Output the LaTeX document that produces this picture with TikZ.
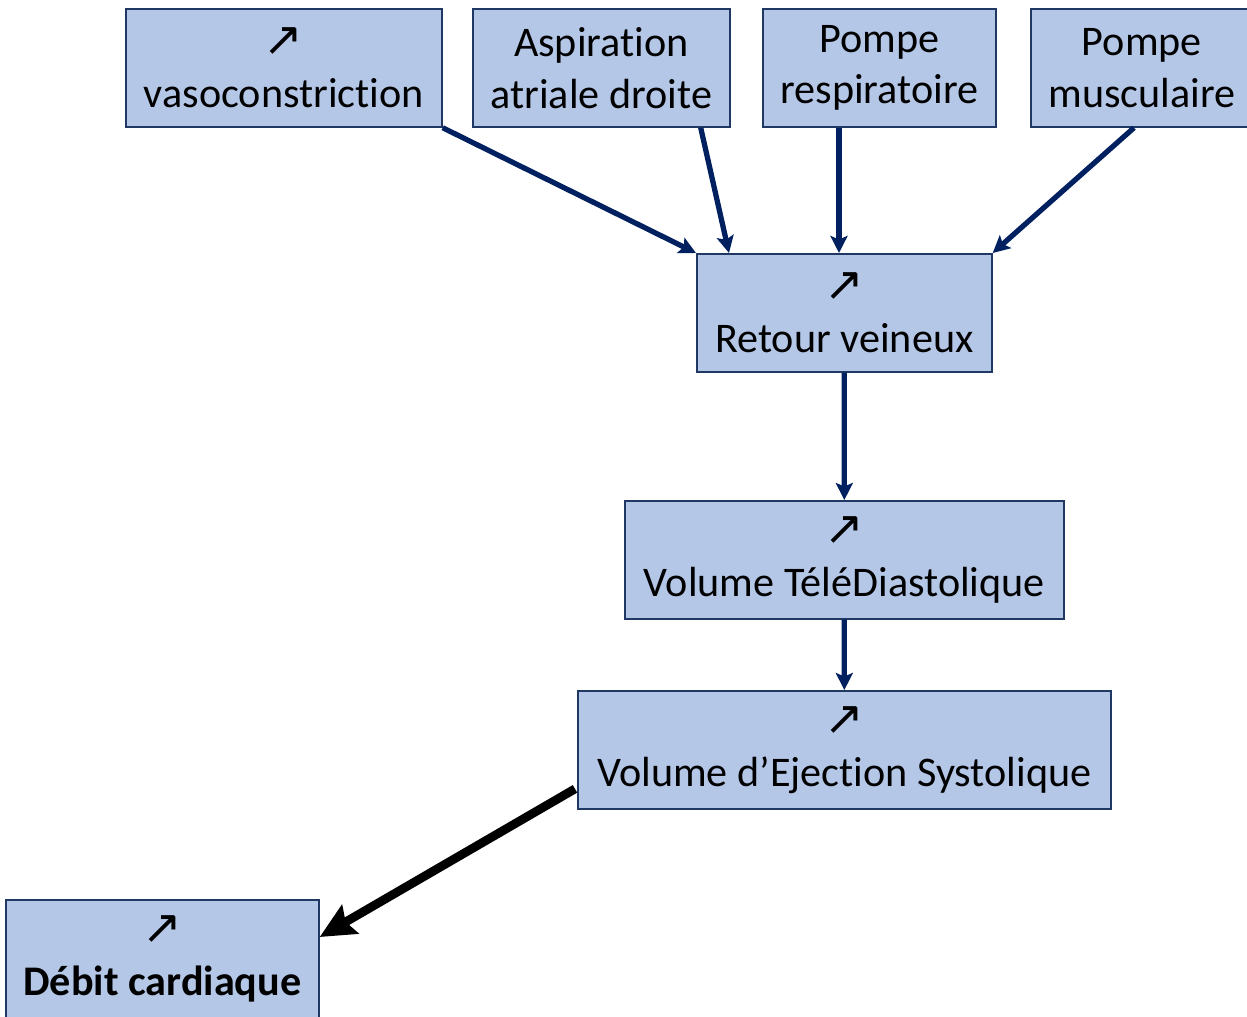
\documentclass[tikz,border=0pt]{standalone}
\usepackage{fontspec}
\setmainfont{Carlito}[Ligatures=NoCommon]
\newfontfamily\arrfont{DejaVu Sans}
\usetikzlibrary{arrows.meta,calc}
\definecolor{BoxFill}{HTML}{B4C7E7}
\definecolor{BoxLine}{HTML}{203864}
\definecolor{FlowNavy}{HTML}{002060}
\newcommand{\hausse}{{\arrfont\fontsize{27}{29}\selectfont ↗}}

\begin{document}
\begin{tikzpicture}[x=0.02cm,y=-0.02cm,
 box/.style={draw=BoxLine,fill=BoxFill,line width=1pt,anchor=north west,
 inner sep=0pt,minimum height=2.36cm,align=center,font=\fontsize{24}{29.5}\selectfont},
 flow/.style={-{Stealth[length=3.4mm,width=3.4mm,inset=0.7mm]},line width=3pt,draw=FlowNavy},
 bigflow/.style={-{Stealth[length=7mm,width=6.5mm,inset=1mm]},line width=5pt,draw=black}]
\useasboundingbox (0,0) rectangle (1247,1017);
% top row
\node[box,minimum width=6.32cm] (vaso) at (125,8) {\hausse\\vasoconstriction};
\node[box,minimum width=5.14cm] (asp) at (472,8) {Aspiration\\atriale droite};
\node[box,minimum width=4.66cm] (resp) at (762,8) {Pompe\\respiratoire};
\node[box,minimum width=4.44cm] (musc) at (1030,8) {Pompe\\musculaire};
% chain
\node[box,minimum width=5.9cm] (retour) at (696,253) {\hausse\\Retour veineux};
\node[box,minimum width=8.78cm] (vtd) at (624,500) {\hausse\\Volume TéléDiastolique};
\node[box,minimum width=10.66cm] (ves) at (577,690) {\hausse\\Volume d’Ejection Systolique};
\node[box,minimum width=6.26cm] (debit) at (5,899) {\hausse\\\textbf{Débit cardiaque}};
% arrows
\draw[flow] (vaso.south east) -- (retour.north west);
\draw[flow] ($(asp.south east)+(-30,0)$) -- ($(retour.north west)+(33,0)$);
\draw[flow] ($(resp.south west)+(77,0)$) -- ($(retour.north west)+(143,0)$);
\draw[flow] ($(musc.south west)+(104,0)$) -- (retour.north east);
\draw[flow] (retour.south) -- (vtd.north);
\draw[flow] (vtd.south) -- (ves.north);
\draw[bigflow] ($(ves.west)+(-2,39)$) -- ($(debit.north east)+(0,38)$);
\end{tikzpicture}
\end{document}
